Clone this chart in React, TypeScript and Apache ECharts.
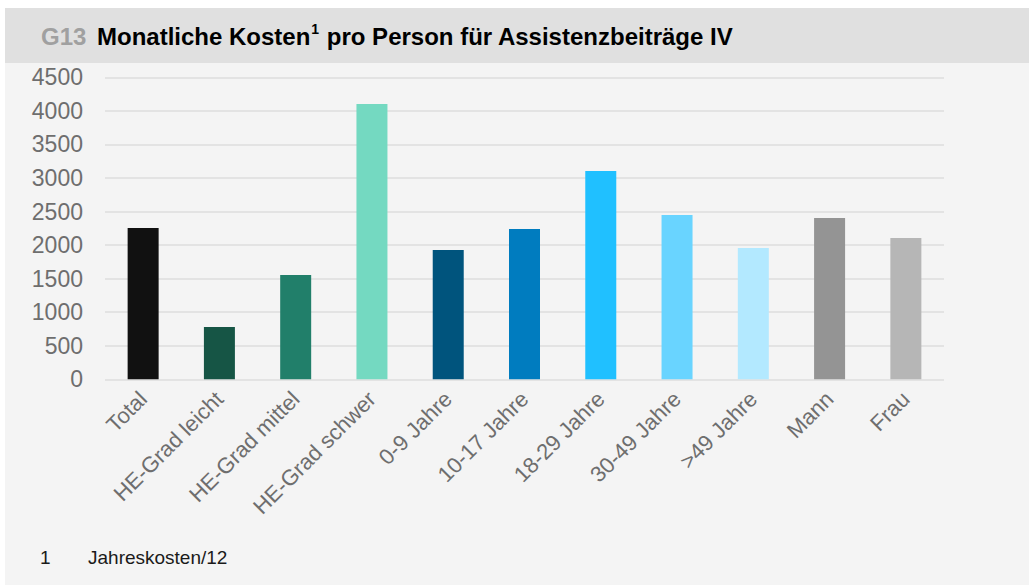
import React, { useEffect, useRef } from "react";
import * as echarts from "echarts";

const categories = [
  "Total",
  "HE-Grad leicht",
  "HE-Grad mittel",
  "HE-Grad schwer",
  "0-9 Jahre",
  "10-17 Jahre",
  "18-29 Jahre",
  "30-49 Jahre",
  ">49 Jahre",
  "Mann",
  "Frau",
];
const values = [2254, 779, 1554, 4102, 1927, 2240, 3104, 2448, 1957, 2404, 2106];
const barColors = [
  "#111111",
  "#165545",
  "#217f6a",
  "#74d9c1",
  "#00547d",
  "#007cbf",
  "#20c0ff",
  "#69d4ff",
  "#b3e9ff",
  "#949494",
  "#b6b6b6",
];
const yTicks = { min: 0, max: 4500, interval: 500 };
const titleCode = "G13";
const titleMain = "Monatliche Kosten";
const titleSup = "1";
const titleRest = " pro Person für Assistenzbeiträge IV";
const footNum = "1";
const footText = "Jahreskosten/12";

const FONT = "'Liberation Sans', Arial, sans-serif";

export default function App() {
  const ref = useRef<HTMLDivElement>(null);
  useEffect(() => {
    if (!ref.current) return;
    const chart = echarts.init(ref.current, undefined, { renderer: "svg" });
    chart.setOption({
      animation: false,
      backgroundColor: "#ffffff",
      textStyle: { fontFamily: FONT },
      graphic: [
        {
          type: "rect",
          z: -10,
          shape: { x: 5, y: 8, width: 1024, height: 55 },
          style: { fill: "#e0e0e0" },
        },
        {
          type: "rect",
          z: -10,
          shape: { x: 5, y: 63, width: 1024, height: 522 },
          style: { fill: "#f4f4f4" },
        },
        {
          type: "text",
          x: 41,
          y: 36,
          style: {
            text: titleCode,
            fill: "#a0a0a0",
            font: `bold 24px ${FONT}`,
            verticalAlign: "middle",
          },
        },
        {
          type: "text",
          x: 97,
          y: 36,
          style: {
            text: `{b|${titleMain}}{s|${titleSup}}{b|${titleRest}}`,
            verticalAlign: "middle",
            rich: {
              b: { fontFamily: FONT, fontWeight: "bold", fontSize: 24, fill: "#000000", color: "#000000", lineHeight: 28 },
              s: { fontFamily: FONT, fontWeight: "bold", fontSize: 14, fill: "#000000", color: "#000000", verticalAlign: "top", lineHeight: 28, padding: [0, 1, 10, 1] },
            },
          },
        },
        {
          type: "text",
          x: 40,
          y: 557,
          style: { text: footNum, fill: "#1a1a1a", font: `19px ${FONT}`, verticalAlign: "middle" },
        },
        {
          type: "text",
          x: 88,
          y: 557,
          style: { text: footText, fill: "#1a1a1a", font: `19px ${FONT}`, verticalAlign: "middle" },
        },
      ],
      grid: { left: 105, right: 85, top: 77.3, bottom: 205.7, containLabel: false },
      xAxis: {
        type: "category",
        data: categories,
        axisLine: { show: false },
        axisTick: { show: false },
        axisLabel: {
          rotate: 45,
          interval: 0,
          margin: 16,
          color: "#6e6e6e",
          fontSize: 22,
          fontFamily: FONT,
        },
      },
      yAxis: {
        type: "value",
        min: yTicks.min,
        max: yTicks.max,
        interval: yTicks.interval,
        axisLine: { show: false },
        axisTick: { show: false },
        axisLabel: {
          color: "#6e6e6e",
          fontSize: 23,
          fontFamily: FONT,
          margin: 22,
          formatter: (v: number) => String(v),
        },
        splitLine: { lineStyle: { color: "#dedede", width: 1.5 } },
      },
      series: [
        {
          type: "bar",
          data: values.map((v, i) => ({ value: v, itemStyle: { color: barColors[i] } })),
          barWidth: 31,
        },
      ],
    });
    return () => chart.dispose();
  }, []);
  return (
    <div
      ref={ref}
      style={{ position: "fixed", left: 0, top: 0, width: 1029, height: 585 }}
    />
  );
}
